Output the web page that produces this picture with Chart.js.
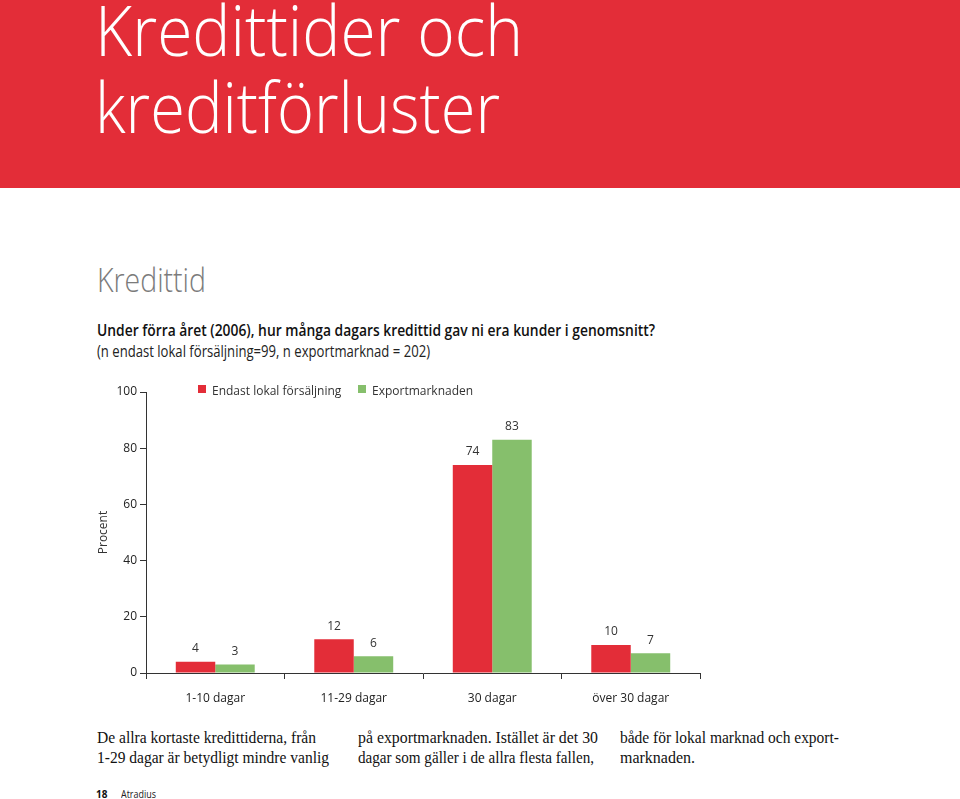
<!DOCTYPE html>
<html><head><meta charset="utf-8">
<script src="https://cdn.jsdelivr.net/npm/chart.js@4.4.1/dist/chart.umd.min.js"></script>
<style>
html,body{margin:0;padding:0;background:#fff;}
body{width:960px;height:799px;position:relative;overflow:hidden;}
#hdr{position:absolute;left:0;top:0;width:960px;height:188px;background:#e32d38;}
.t{position:absolute;white-space:nowrap;line-height:1;transform-origin:0 0;}
#wrap{position:absolute;left:80px;top:375px;width:640px;height:340px;}
.sq{position:absolute;width:8px;height:8px;}
</style></head><body>
<div id="hdr"></div>
<div class="t fit" data-w="428" style="left:95px;top:-19px;font:300 70px 'Open Sans';color:#fff;">Kredittider och</div>
<div class="t fit" data-w="405" style="left:95px;top:58px;font:300 70px 'Open Sans';color:#fff;">kreditförluster</div>
<div class="t fit" data-w="109" style="left:97px;top:257px;font:300 33px 'Open Sans';color:#7b7b7b;">Kredittid</div>
<div class="t fit" data-w="558" style="left:97px;top:319px;font:600 15.5px 'Open Sans';color:#111;">Under förra året (2006), hur många dagars kredittid gav ni era kunder i genomsnitt?</div>
<div class="t fit" data-w="333" style="left:97px;top:340px;font:400 15.5px 'Open Sans';color:#222;">(n endast lokal försäljning=99, n exportmarknad = 202)</div>

<div id="wrap"><canvas id="c"></canvas></div>
<div class="sq" style="left:198px;top:385px;background:#e32d38;"></div>
<div class="t" style="left:212px;top:382px;font:400 12px 'Open Sans';color:#333;">Endast lokal försäljning</div>
<div class="sq" style="left:358px;top:385px;background:#86bf6c;"></div>
<div class="t" style="left:372px;top:382px;font:400 12px 'Open Sans';color:#333;">Exportmarknaden</div>

<div class="t fit" data-w="219" style="left:97px;top:729px;font:400 16px 'Liberation Serif';color:#111;">De allra kortaste kredittiderna, från</div>
<div class="t fit" data-w="232" style="left:97px;top:749px;font:400 16px 'Liberation Serif';color:#111;">1-29 dagar är betydligt mindre vanlig</div>
<div class="t fit" data-w="240" style="left:358px;top:729px;font:400 16px 'Liberation Serif';color:#111;">på exportmarknaden. Istället är det 30</div>
<div class="t fit" data-w="236" style="left:358px;top:749px;font:400 16px 'Liberation Serif';color:#111;">dagar som gäller i de allra flesta fallen,</div>
<div class="t fit" data-w="219" style="left:620px;top:729px;font:400 16px 'Liberation Serif';color:#111;">både för lokal marknad och export-</div>
<div class="t fit" data-w="75" style="left:620px;top:749px;font:400 16px 'Liberation Serif';color:#111;">marknaden.</div>
<div class="t" style="left:96px;top:787px;font:700 10px 'Open Sans';color:#111;">18</div>
<div class="t fit" data-w="35" style="left:121px;top:787px;font:400 10px 'Open Sans';color:#222;">Atradius</div>

<script>
const categories = ["1-10 dagar", "11-29 dagar", "30 dagar", "över 30 dagar"];
const seriesNames = ["Endast lokal försäljning", "Exportmarknaden"];
const lokal = [4, 12, 74, 10];
const export_ = [3, 6, 83, 7];
const yTicks = [0, 20, 40, 60, 80, 100];
const RED = "#e32d38", GREEN = "#86bf6c";

document.querySelectorAll('.fit').forEach(el => {
  const w = el.getBoundingClientRect().width;
  const tw = +el.dataset.w;
  if (w > 0) el.style.transform = 'scaleX(' + (tw / w) + ')';
});

const labelsPlugin = {
  id: 'vals',
  afterDatasetsDraw(chart) {
    const ctx = chart.ctx;
    ctx.save();
    ctx.font = "12px 'Open Sans'";
    ctx.fillStyle = '#333';
    ctx.textAlign = 'center';
    ctx.textBaseline = 'middle';
    chart.data.datasets.forEach((ds, i) => {
      chart.getDatasetMeta(i).data.forEach((bar, j) => {
        ctx.fillText(String(ds.data[j]), bar.x, bar.y - 13);
      });
    });
    ctx.restore();
  }
};

new Chart(document.getElementById('c'), {
  type: 'bar',
  data: {
    labels: categories,
    datasets: [
      { label: seriesNames[0], data: lokal, backgroundColor: RED, borderWidth: 0 },
      { label: seriesNames[1], data: export_, backgroundColor: GREEN, borderWidth: 0 }
    ]
  },
  options: {
    responsive: true, maintainAspectRatio: false, animation: false,
    layout: { padding: { top: 17, right: 20, bottom: 2, left: 0 } },
    categoryPercentage: 0.57, barPercentage: 1,
    plugins: { legend: { display: false }, tooltip: { enabled: false } },
    scales: {
      x: {
        offset: true,
        grid: { offset: true, drawOnChartArea: false, tickLength: 6, color: '#333', tickColor: '#333' },
        border: { color: '#333', width: 1 },
        ticks: { color: '#222', font: { family: 'Open Sans', size: 12 }, padding: 12 },
        afterFit(s) { s.height = 40; }
      },
      y: {
        min: 0, max: 100,
        afterBuildTicks(s) { s.ticks = yTicks.map(v => ({ value: v })); },
        grid: { drawOnChartArea: false, tickLength: 6, color: '#333', tickColor: '#333' },
        border: { color: '#333', width: 1 },
        ticks: { color: '#222', font: { family: 'Open Sans', size: 12 }, padding: 3 },
        title: { display: true, text: 'Procent', color: '#333', font: { family: 'Open Sans', size: 12 }, padding: { top: 16, bottom: 0 } },
        afterFit(s) { s.width = 66; }
      }
    }
  },
  plugins: [labelsPlugin]
});
</script>
</body></html>
